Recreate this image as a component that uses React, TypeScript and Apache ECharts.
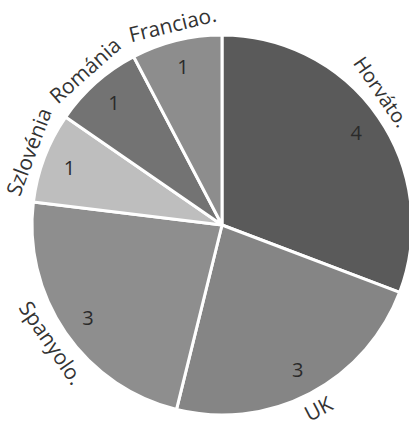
import React, { useEffect, useRef } from "react";
import * as echarts from "echarts";

// Slices, clockwise from twelve o'clock
const categories = ["Horváto.", "UK", "Spanyolo.", "Szlovénia", "Románia", "Franciao."];
const values = [4, 3, 3, 1, 1, 1];
const colors = ["#5a5a5a", "#858585", "#8e8e8e", "#bebebe", "#737373", "#8d8d8d"];

const FONT = "'Open Sans', 'Liberation Sans', sans-serif";
const CENTER: [number, number] = [222, 225];

export default function App() {
  const ref = useRef<HTMLDivElement>(null);

  useEffect(() => {
    if (!ref.current) return;
    const chart = echarts.init(ref.current, undefined, { renderer: "svg" });

    const slices = categories.map((name, i) => ({
      name,
      value: values[i],
      itemStyle: { color: colors[i] },
    }));

    const ghost = categories.map((name, i) => ({
      name,
      value: values[i],
      itemStyle: { color: "rgba(0,0,0,0)", borderWidth: 0 },
    }));

    // the first name slides back along the rim so it stays in view
    const names = ghost.map((d, i) =>
      i === 0 ? { ...d, label: { offset: [-19, 0], fontSize: 20 } } : d
    );

    chart.setOption({
      animation: false,
      backgroundColor: "#ffffff",
      series: [
        {
          type: "pie",
          center: CENTER,
          radius: [0, 190],
          startAngle: 90,
          clockwise: true,
          silent: true,
          data: slices,
          itemStyle: { borderColor: "#ffffff", borderWidth: 3 },
          label: { show: false },
          labelLine: { show: false },
        },
        {
          // value labels near the rim
          type: "pie",
          center: CENTER,
          radius: [130, 190],
          startAngle: 90,
          clockwise: true,
          silent: true,
          data: ghost,
          label: {
            show: true,
            position: "inside",
            formatter: "{c}",
            color: "#2a2a2a",
            fontFamily: FONT,
            fontSize: 20,
          },
          labelLine: { show: false },
        },
        {
          // category names just outside, following the circle
          type: "pie",
          center: CENTER,
          radius: [191, 217],
          startAngle: 90,
          clockwise: true,
          silent: true,
          data: names,
          label: {
            show: true,
            position: "inside",
            rotate: "tangential",
            formatter: "{b}",
            color: "#333333",
            fontFamily: FONT,
            fontSize: 21,
          },
          labelLine: { show: false },
        },
      ],
    });

    return () => chart.dispose();
  }, []);

  return (
    <div
      ref={ref}
      style={{ position: "fixed", left: 0, top: 0, width: 409, height: 426, background: "#fff" }}
    />
  );
}
